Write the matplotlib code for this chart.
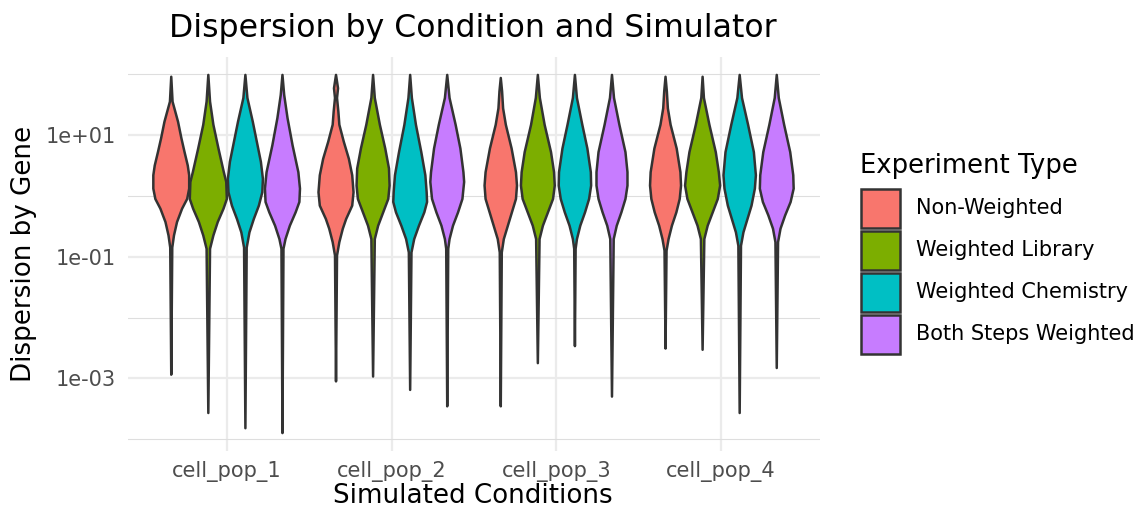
import matplotlib
matplotlib.use("Agg")
import matplotlib.pyplot as plt
from matplotlib.patches import Rectangle
from matplotlib.ticker import FixedLocator, NullFormatter
import numpy as np

# Conditions on the x axis and the four experiment types (fill groups)
CONDITIONS = ["cell_pop_1", "cell_pop_2", "cell_pop_3", "cell_pop_4"]
EXPERIMENT_TYPES = ["Non-Weighted", "Weighted Library", "Weighted Chemistry", "Both Steps Weighted"]
FILL_COLORS = ["#F8766D", "#7CAE00", "#00BFC4", "#C77CFF"]

# Violin outlines: log10(dispersion) knots, top to bottom, and the relative
# density (half width) at each knot, one list per condition.
NON_WEIGHTED_LOG10 = [
    [1.96, 1.55, 1.22, 0.95, 0.73, 0.50, 0.34, 0.12, -0.05, -0.21, -0.43, -0.65, -0.85, -2.94],
    [1.99, 1.77, 1.61, 1.39, 1.17, 0.89, 0.61, 0.34, 0.06, -0.16, -0.38, -0.54, -0.76, -0.98, -3.05],
    [1.94, 1.72, 1.44, 1.17, 0.78, 0.39, 0.17, -0.05, -0.27, -0.49, -0.71, -0.93, -3.46],
    [1.96, 1.72, 1.44, 1.17, 0.78, 0.39, 0.17, -0.05, -0.27, -0.49, -0.71, -0.90, -2.51],
]
NON_WEIGHTED_DENSITY = [
    [0, 1.3, 6.7, 10, 13, 16.3, 17.7, 17.7, 15.7, 10.7, 5.7, 2.7, 1.0, 0],
    [0, 2, 1, 2.3, 3.3, 7.7, 12.7, 16, 17.3, 16, 10, 6.7, 3.3, 1, 0],
    [0, 1.3, 2.3, 5, 10.7, 15, 16, 15, 11, 7, 3, 1, 0],
    [0, 1.3, 2.3, 5, 11, 14.7, 15.3, 14, 10.7, 6.3, 3, 1, 0],
]

WEIGHTED_LIBRARY_LOG10 = [
    [1.99, 1.55, 1.17, 0.78, 0.39, 0.23, -0.05, -0.21, -0.43, -0.65, -0.87, -3.57],
    [1.99, 1.61, 1.17, 0.78, 0.45, 0.17, -0.05, -0.27, -0.49, -0.71, -2.97],
    [1.99, 1.61, 1.17, 0.72, 0.39, 0.17, -0.05, -0.27, -0.49, -0.71, -2.75],
    [1.96, 1.61, 1.17, 0.72, 0.39, 0.17, -0.05, -0.27, -0.49, -0.71, -2.53],
]
WEIGHTED_LIBRARY_DENSITY = [
    [0, 1.7, 5, 10, 15.3, 17.7, 18.3, 15, 9.3, 5, 1.7, 0],
    [0, 1.7, 6.7, 12, 15.7, 16.3, 15, 10, 5, 1.7, 0],
    [0, 2, 6.7, 13, 16, 16.7, 15, 10, 5, 1.7, 0],
    [0, 1.3, 6.7, 13, 16, 17.3, 15, 10, 5, 1.7, 0],
]

WEIGHTED_CHEMISTRY_LOG10 = [
    [1.99, 1.61, 1.22, 0.89, 0.56, 0.28, 0.06, -0.16, -0.38, -0.60, -0.85, -3.82],
    [1.99, 1.61, 1.17, 0.72, 0.34, 0.06, -0.10, -0.27, -0.49, -0.71, -0.93, -3.19],
    [1.99, 1.61, 1.17, 0.78, 0.39, 0.17, -0.05, -0.27, -0.49, -0.71, -0.87, -2.47],
    [1.99, 1.61, 1.17, 0.72, 0.34, 0.12, -0.16, -0.38, -0.60, -0.82, -3.57],
]
WEIGHTED_CHEMISTRY_DENSITY = [
    [0, 2, 7.3, 11.3, 15.3, 17.3, 16.7, 13.3, 8.3, 4, 1.3, 0],
    [0, 1.7, 5.7, 11, 15, 16.3, 16.7, 14, 8.7, 4, 1.3, 0],
    [0, 2, 7.3, 12.3, 15.7, 16, 14, 10, 5.3, 2, 0.7, 0],
    [0, 2.3, 8.3, 14, 16, 15, 11.7, 7.7, 3.7, 1.3, 0],
]

BOTH_WEIGHTED_LOG10 = [
    [1.99, 1.66, 1.28, 0.83, 0.39, 0.12, -0.10, -0.27, -0.49, -0.71, -0.87, -3.90],
    [1.99, 1.61, 1.17, 0.78, 0.39, 0.23, -0.05, -0.27, -0.49, -0.71, -0.87, -3.46],
    [1.99, 1.61, 1.17, 0.72, 0.39, 0.17, -0.05, -0.27, -0.49, -0.71, -3.30],
    [1.99, 1.61, 1.17, 0.72, 0.34, 0.12, -0.10, -0.32, -0.54, -0.76, -2.83],
]
BOTH_WEIGHTED_DENSITY = [
    [0, 1.7, 5, 10, 15.7, 17.3, 16.7, 13, 7.3, 3, 1, 0],
    [0, 2.3, 8.3, 13, 16, 16.7, 15, 10.7, 5.7, 2.3, 1, 0],
    [0, 2, 7.3, 13.3, 15.3, 15.3, 13.3, 9.3, 4.7, 1.7, 0],
    [0, 2, 7.3, 13.3, 16.3, 16.7, 13.7, 8.3, 3.7, 1.3, 0],
]

Y_TICKS = [1e-3, 1e-1, 1e1]
Y_TICK_LABELS = ["1e-03", "1e-01", "1e+01"]
Y_MINOR = [1e-4, 1e-2, 1e0, 1e2]

W, H = 1141, 509
OUTLINE = "#333333"
GRID = "#EBEBEB"


def fx(px):
    return px / W


def fy(py):
    return 1 - py / H


series_log = [NON_WEIGHTED_LOG10, WEIGHTED_LIBRARY_LOG10, WEIGHTED_CHEMISTRY_LOG10, BOTH_WEIGHTED_LOG10]
series_dens = [NON_WEIGHTED_DENSITY, WEIGHTED_LIBRARY_DENSITY, WEIGHTED_CHEMISTRY_DENSITY, BOTH_WEIGHTED_DENSITY]

fig = plt.figure(figsize=(W / 100, H / 100), dpi=100)
ax = fig.add_axes([fx(128), fy(451), fx(820) - fx(128), fy(57) - fy(451)])

for side in ax.spines.values():
    side.set_visible(False)

# dodge: 4 groups share 0.9 of each category slot
n_groups = len(EXPERIMENT_TYPES)
slot = 0.9 / n_groups
dens_max = max(max(d) for group in series_dens for d in group)
half_max = slot / 2

all_logs = [v for group in series_log for lst in group for v in lst]
lo, hi = min(all_logs), max(all_logs)
pad = 0.05 * (hi - lo)

for g in range(n_groups):
    for c in range(len(CONDITIONS)):
        logs = np.array(series_log[g][c])
        dens = np.array(series_dens[g][c]) / dens_max * half_max
        xc = (c + 1) + (g - (n_groups - 1) / 2) * slot
        xs = np.concatenate([xc + dens, (xc - dens)[::-1]])
        ys = np.concatenate([10 ** logs, (10 ** logs)[::-1]])
        ax.fill(xs, ys, facecolor=FILL_COLORS[g], edgecolor=OUTLINE,
                linewidth=1.8, joinstyle="round", zorder=3)

ax.set_yscale("log")
ax.set_xlim(0.4, len(CONDITIONS) + 0.6)
ax.set_ylim(10 ** (lo - pad), 10 ** (hi + pad))

ax.set_xticks(range(1, len(CONDITIONS) + 1))
ax.set_xticklabels(CONDITIONS)
ax.yaxis.set_major_locator(FixedLocator(Y_TICKS))
ax.set_yticklabels(Y_TICK_LABELS)
ax.yaxis.set_minor_locator(FixedLocator(Y_MINOR))
ax.yaxis.set_minor_formatter(NullFormatter())

ax.tick_params(axis="both", which="both", length=0, labelsize=15, labelcolor="#4D4D4D")
ax.tick_params(axis="y", pad=9)
ax.tick_params(axis="x", pad=7)

ax.set_axisbelow(True)
ax.grid(True, which="major", axis="both", color=GRID, linewidth=1.6, zorder=0)
ax.grid(True, which="minor", axis="y", color="#DEDEDE", linewidth=0.8, zorder=0)

fig.text(fx(473), fy(37.5), "Dispersion by Condition and Simulator",
         ha="center", va="baseline", fontsize=22.7, color="black")
fig.text(fx(473), fy(503), "Simulated Conditions",
         ha="center", va="baseline", fontsize=18.8, color="black")
fig.text(fx(24), fy(254), "Dispersion by Gene", rotation=90,
         ha="center", va="center", fontsize=18.8, color="black")

# legend drawn by hand in figure coordinates
fig.text(fx(860), fy(173), "Experiment Type", ha="left", va="baseline",
         fontsize=18.6, color="black")
key_tops = [189, 231, 273, 315]
for label, color, top in zip(EXPERIMENT_TYPES, FILL_COLORS, key_tops):
    fig.add_artist(Rectangle((fx(861), fy(top + 39)), fx(39), fy(top) - fy(top + 39),
                             transform=fig.transFigure, facecolor=color,
                             edgecolor=OUTLINE, linewidth=1.8))
    fig.text(fx(916), fy(top + 19.5), label, ha="left", va="center",
             fontsize=15, color="black")

fig.savefig("out.png", dpi=100)
